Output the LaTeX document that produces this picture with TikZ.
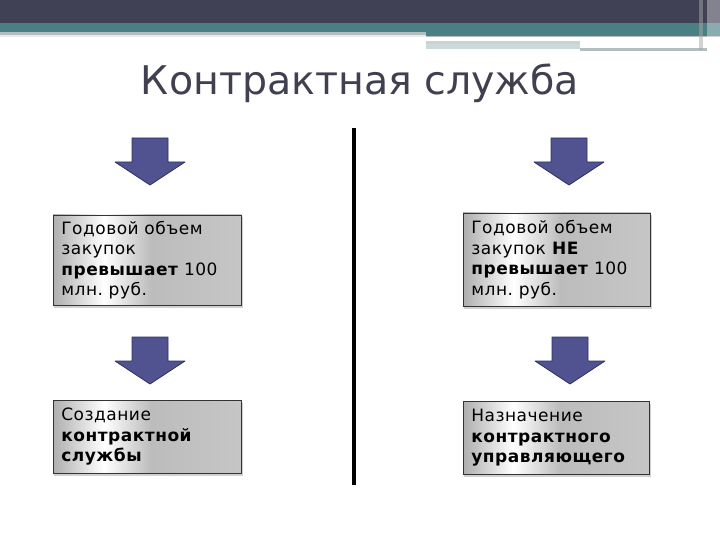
\documentclass[tikz,border=0pt]{standalone}
\usepackage{fontspec}
\setmainfont{DejaVu Sans}
\usetikzlibrary{calc,backgrounds}
\frenchspacing
\definecolor{topdark}{HTML}{414155}
\definecolor{topteal}{HTML}{4A8083}
\definecolor{stripgray}{HTML}{B4BEBE}
\definecolor{stripblue}{HTML}{CBD9DA}
\definecolor{titlecol}{HTML}{404050}
\definecolor{arrowfill}{HTML}{50538F}
\definecolor{arrowdraw}{HTML}{2E3060}
\definecolor{metaldark}{HTML}{AEAEAE}
\definecolor{metalmid}{HTML}{BCBCBC}
\definecolor{metalend}{HTML}{C6C6C6}
\newcommand\metalfill[1]{%
  \fill[black, opacity=0.18] ([xshift=1pt,yshift=-2.5pt]#1.north west) rectangle ([xshift=1pt,yshift=-2.5pt]#1.south east);
  \shade[left color=metaldark, right color=white] (#1.north west) rectangle ($(#1.south west)!0.27!(#1.south east)$);
  \shade[left color=white, right color=metalmid] ($(#1.north west)!0.27!(#1.north east)$) rectangle ($(#1.south west)!0.52!(#1.south east)$);
  \shade[left color=metalmid, right color=metalend] ($(#1.north west)!0.52!(#1.north east)$) rectangle (#1.south east);
}
\tikzset{
  infobox/.style={draw=black!80, line width=0.7pt, anchor=north west,
    inner xsep=8pt, inner ysep=0pt, align=left, text=black,
    font=\fontsize{17}{20.5}\selectfont\addfontfeature{LetterSpace=3}},
  darrow/.pic={\draw[fill=arrowfill, draw=arrowdraw, line width=0.8pt, line join=round]
    (-18,0) -- (18,0) -- (18,24) -- (35,24) -- (0,47) -- (-35,24) -- (-18,24) -- cycle;},
}
\begin{document}
\begin{tikzpicture}[x=1pt,y=-1pt]
\useasboundingbox (0,0) rectangle (720,540);
% top decoration
\fill[topdark] (0,0) rectangle (720,23.5);
\fill[topteal] (0,23.5) rectangle (720,32);
\fill[topteal] (426,32) rectangle (720,35.7);
\fill[stripgray] (0,32) rectangle (426,35);
\fill[black!8] (0,35) rectangle (426,37);
\fill[stripgray] (426,35.7) rectangle (720,37);
\fill[stripgray!70] (426,41.5) rectangle (580,44);
\fill[stripblue] (426,44) rectangle (580,49.5);
\fill[stripgray] (580,48) rectangle (707,51);
\fill[black!35, opacity=0.5] (699,0) rectangle (703,50);
\fill[white, opacity=0.35] (707,0) rectangle (720,52);
% title
\node[text=titlecol, font=\fontsize{39.5}{46}\selectfont, anchor=base] (title) at (360,95) {Контрактная служба};
% separator
\draw[line width=4pt, black] (354,128) coordinate (sepTop) -- (354,485) coordinate (sepBot);
% arrows
\pic (a1) at (150,138) {darrow};
\pic (a2) at (569,138) {darrow};
\pic (a3) at (150,337) {darrow};
\pic (a4) at (570,337) {darrow};
% boxes
\node[infobox, minimum width=188pt, minimum height=90pt, text width=172pt] (L1) at (53,215)
  {Годовой объем\\закупок\\\textbf{превышает} 100\\млн. руб.};
\node[infobox, minimum width=187pt, minimum height=93pt, text width=171pt] (R1) at (463,213)
  {Годовой объем\\закупок \textbf{НЕ}\\\textbf{превышает} 100\\млн. руб.};
\node[infobox, minimum width=188pt, minimum height=73pt, text width=172pt] (L2) at (53,400)
  {Создание\\\textbf{контрактной}\\\textbf{службы}};
\node[infobox, minimum width=186pt, minimum height=73pt, text width=170pt] (R2) at (463,401)
  {Назначение\\\textbf{контрактного}\\\textbf{управляющего}};
\begin{pgfonlayer}{background}
  \metalfill{L1}
  \metalfill{R1}
  \metalfill{L2}
  \metalfill{R2}
\end{pgfonlayer}
\end{tikzpicture}
\end{document}
